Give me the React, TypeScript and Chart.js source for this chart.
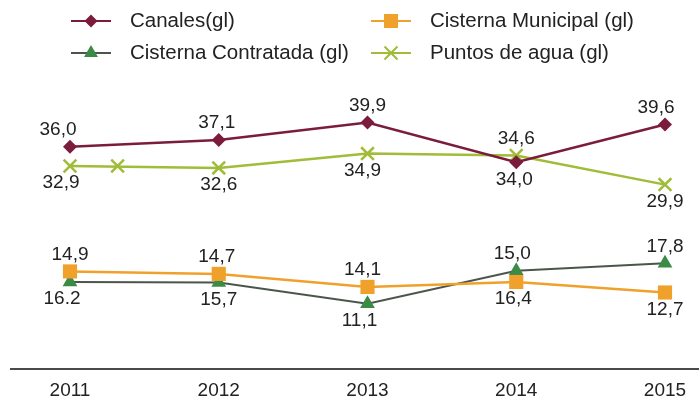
import React, { useEffect, useRef } from 'react';
import { Chart, registerables } from 'chart.js';
Chart.register(...registerables);

const years = [2011, 2012, 2013, 2014, 2015];
const canales = [36.0, 37.1, 39.9, 33.5, 39.6];
const cisternaMunicipal = [15.9, 15.5, 13.4, 14.2, 12.5];
const cisternaContratada = [14.2, 14.1, 10.7, 16.0, 17.2];
const puntosAgua = [32.9, 32.6, 34.9, 34.6, 29.9];
const strayMarkerYear = [2011.32];
const strayMarkerValue = [32.9];

const canalesLabels = ['36,0', '37,1', '39,9', '34,0', '39,6'];
const municipalLabels = ['14,9', '14,7', '14,1', '16,4', '12,7'];
const contratadaLabels = ['16.2', '15,7', '11,1', '15,0', '17,8'];
const puntosLabels = ['32,9', '32,6', '34,9', '34,6', '29,9'];

const seriesNames = ['Canales(gl)', 'Cisterna Municipal (gl)', 'Cisterna Contratada (gl)', 'Puntos de agua (gl)'];

const FONT = "'Liberation Sans', Arial, Helvetica, sans-serif";

const C_CANALES = '#7b1c3c';
const C_MUNI = '#f0a12c';
const C_CONTR_LINE = '#4b554b';
const C_CONTR_MARK = '#3b8a45';
const C_PUNTOS = '#a0bc38';

// label placement: side (-1 above, 1 below), dx shift
const placement: Record<number, { side: number[]; dx: number[] }> = {
  0: { side: [-1, -1, -1, 1, -1], dx: [-12, -2, 0, -2, -9] },
  1: { side: [-1, -1, -1, 1, 1], dx: [0, -2, -5, -3, 0] },
  2: { side: [1, 1, 1, -1, -1], dx: [-8, 0, -8, -4, 0] },
  3: { side: [1, 1, 1, -1, 1], dx: [-9, 0, -5, 0, 0] },
};
const labelTexts = [canalesLabels, municipalLabels, contratadaLabels, puntosLabels];

function drawMarker(ctx: CanvasRenderingContext2D, kind: string, x: number, y: number, color: string) {
  ctx.save();
  ctx.fillStyle = color;
  ctx.strokeStyle = color;
  ctx.beginPath();
  if (kind === 'diamond') {
    const r = 6.5;
    ctx.moveTo(x, y - r); ctx.lineTo(x + r, y); ctx.lineTo(x, y + r); ctx.lineTo(x - r, y); ctx.closePath(); ctx.fill();
  } else if (kind === 'square') {
    const s = 7;
    ctx.rect(x - s, y - s, 2 * s, 2 * s); ctx.fill();
  } else if (kind === 'triangle') {
    const r = 8;
    ctx.moveTo(x, y - r); ctx.lineTo(x + r * 0.87, y + r * 0.5); ctx.lineTo(x - r * 0.87, y + r * 0.5); ctx.closePath(); ctx.fill();
  } else {
    const r = 6.5;
    ctx.lineWidth = 2;
    ctx.moveTo(x - r, y - r); ctx.lineTo(x + r, y + r); ctx.moveTo(x + r, y - r); ctx.lineTo(x - r, y + r); ctx.stroke();
  }
  ctx.restore();
}

const customPlugin = {
  id: 'customDecor',
  afterDraw(chart: any) {
    const ctx: CanvasRenderingContext2D = chart.ctx;
    const { chartArea, width } = chart;
    // baseline axis line
    ctx.save();
    ctx.strokeStyle = '#4a4a4a';
    ctx.lineWidth = 2;
    ctx.beginPath();
    ctx.moveTo(10, chartArea.bottom - 1);
    ctx.lineTo(width, chartArea.bottom - 1);
    ctx.stroke();
    ctx.restore();

    // data labels
    ctx.save();
    ctx.font = `19px ${FONT}`;
    ctx.fillStyle = '#222';
    ctx.textAlign = 'center';
    ctx.textBaseline = 'middle';
    for (let d = 0; d < 4; d++) {
      const meta = chart.getDatasetMeta(d);
      const pl = placement[d];
      meta.data.forEach((pt: any, i: number) => {
        const y = pt.y + pl.side[i] * 17;
        ctx.fillText(labelTexts[d][i], pt.x + pl.dx[i], y);
      });
    }
    ctx.restore();

    // legend
    const items = [
      { name: seriesNames[0], line: C_CANALES, mark: C_CANALES, kind: 'diamond', x: 91, y: 21 },
      { name: seriesNames[1], line: C_MUNI, mark: C_MUNI, kind: 'square', x: 391, y: 21 },
      { name: seriesNames[2], line: C_CONTR_LINE, mark: C_CONTR_MARK, kind: 'triangle', x: 91, y: 53 },
      { name: seriesNames[3], line: C_PUNTOS, mark: C_PUNTOS, kind: 'cross', x: 391, y: 53 },
    ];
    ctx.save();
    ctx.font = `20.5px ${FONT}`;
    ctx.fillStyle = '#222';
    ctx.textAlign = 'left';
    ctx.textBaseline = 'middle';
    items.forEach((it) => {
      ctx.strokeStyle = it.line;
      ctx.lineWidth = 2;
      ctx.beginPath();
      ctx.moveTo(it.x - 20, it.y);
      ctx.lineTo(it.x + 20, it.y);
      ctx.stroke();
      drawMarker(ctx, it.kind, it.x, it.y, it.mark);
      ctx.fillStyle = '#222';
      ctx.fillText(it.name, it.x + 39, it.y);
    });
    ctx.restore();
  },
};

export default function App() {
  const ref = useRef<HTMLCanvasElement>(null);
  useEffect(() => {
    if (!ref.current) return;
    const mk = (vals: number[]) => years.map((y, i) => ({ x: y, y: vals[i] }));
    const chart = new Chart(ref.current, {
      type: 'line',
      data: {
        datasets: [
          {
            label: seriesNames[0], data: mk(canales), borderColor: C_CANALES, backgroundColor: C_CANALES,
            borderWidth: 2.5, pointStyle: 'rectRot', pointRadius: 7, pointBorderWidth: 0, pointBackgroundColor: C_CANALES, clip: false,
          },
          {
            label: seriesNames[1], data: mk(cisternaMunicipal), borderColor: C_MUNI, backgroundColor: C_MUNI,
            borderWidth: 2.5, pointStyle: 'rect', pointRadius: 10, pointBorderWidth: 0, pointBackgroundColor: C_MUNI, clip: false,
          },
          {
            label: seriesNames[2], data: mk(cisternaContratada), borderColor: C_CONTR_LINE, backgroundColor: C_CONTR_MARK,
            borderWidth: 2, pointStyle: 'triangle', pointRadius: 8.5, pointBorderWidth: 0, pointBackgroundColor: C_CONTR_MARK, clip: false,
          },
          {
            label: seriesNames[3], data: mk(puntosAgua), borderColor: C_PUNTOS, backgroundColor: C_PUNTOS,
            borderWidth: 2.5, pointStyle: 'crossRot', pointRadius: 9, pointBorderWidth: 2.5, pointBorderColor: C_PUNTOS, clip: false,
          },
          {
            label: 'stray', data: strayMarkerYear.map((x, i) => ({ x, y: strayMarkerValue[i] })), showLine: false,
            borderColor: C_PUNTOS, pointStyle: 'crossRot', pointRadius: 9, pointBorderWidth: 2.5, pointBorderColor: C_PUNTOS, clip: false,
          },
        ] as any,
      },
      options: {
        animation: false,
        responsive: true,
        maintainAspectRatio: false,
        layout: { padding: { left: 70, right: 34, top: 91, bottom: 0 } },
        plugins: { legend: { display: false }, tooltip: { enabled: false } },
        scales: {
          x: {
            type: 'linear', min: 2011, max: 2015,
            grid: { display: false, drawTicks: false }, border: { display: false },
            afterFit: (scale: any) => { scale.height = 30; },
            ticks: {
              stepSize: 1, padding: 9, color: '#222',
              font: { size: 19, family: FONT },
              callback: (v: any) => String(v),
            },
          },
          y: { display: false, min: 0, max: 45 },
        },
      } as any,
      plugins: [customPlugin],
    });
    return () => chart.destroy();
  }, []);
  return (
    <div style={{ position: 'fixed', left: 0, top: 0, width: 699, height: 400, background: '#fff' }}>
      <canvas ref={ref} />
    </div>
  );
}
